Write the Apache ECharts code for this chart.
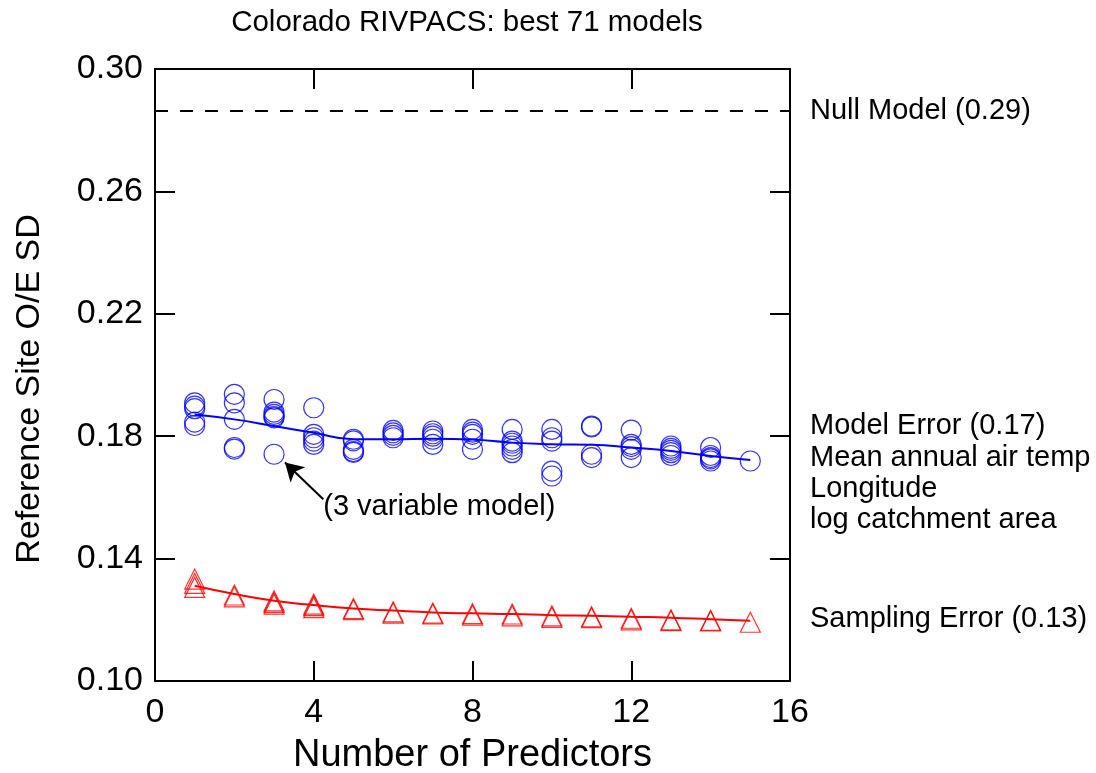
<!DOCTYPE html>
<html>
<head>
<meta charset="utf-8">
<script src="https://cdn.jsdelivr.net/npm/echarts@6/dist/echarts.min.js"></script>
<style>
html,body{margin:0;padding:0;background:#fff;}
#chart{width:1096px;height:773px;}
</style>
</head>
<body>
<div id="chart"></div>
<script>
// ---- data ----
const predictorCounts = [1,2,3,4,5,6,7,8,9,10,11,12,13,14,15];
// model error (O/E SD) of each candidate model, grouped by number of predictors
const modelErrorByCount = [
  [0.1909, 0.1898, 0.1890, 0.1846, 0.1835],
  [0.1937, 0.1909, 0.1855, 0.1763, 0.1758],
  [0.1920, 0.1879, 0.1871, 0.1864, 0.1860, 0.1741],
  [0.1893, 0.1806, 0.1795, 0.1784, 0.1773],
  [0.1790, 0.1785, 0.1757, 0.1750, 0.1747],
  [0.1819, 0.1811, 0.1803, 0.1795],
  [0.1817, 0.1808, 0.1800, 0.1790, 0.1773],
  [0.1822, 0.1813, 0.1806, 0.1790, 0.1757],
  [0.1822, 0.1784, 0.1777, 0.1768, 0.1757, 0.1746],
  [0.1822, 0.1795, 0.1784, 0.1686, 0.1670],
  [0.1833, 0.1830, 0.1741, 0.1730],
  [0.1820, 0.1773, 0.1766, 0.1757, 0.1730],
  [0.1768, 0.1760, 0.1754, 0.1746, 0.1737],
  [0.1763, 0.1737, 0.1730, 0.1726, 0.1719],
  [0.1719]
];
// sampling error of each model, grouped by number of predictors
const samplingErrorByCount = [
  [0.1333, 0.1319, 0.1306],
  [0.1281, 0.1275],
  [0.1262, 0.1257, 0.1251],
  [0.1251, 0.1246, 0.1240],
  [0.1237, 0.1233],
  [0.1226, 0.1222],
  [0.1222, 0.1219],
  [0.1220, 0.1215],
  [0.1219, 0.1213],
  [0.1213, 0.1208],
  [0.1210, 0.1207],
  [0.1205, 0.1200],
  [0.1200, 0.1197],
  [0.1198, 0.1196],
  [0.1192]
];
// smoothed trend lines
const modelErrorTrend    = [0.1871,0.1855,0.1833,0.1811,0.1790,0.1790,0.1792,0.1789,0.1779,0.1774,0.1772,0.1763,0.1752,0.1735,0.1722];
const samplingErrorTrend = [0.1311,0.1284,0.1262,0.1248,0.1237,0.1230,0.1224,0.1221,0.1219,0.1215,0.1213,0.1210,0.1207,0.1202,0.1197];
const nullModelSD = 0.2863;
const xTickRange = [0, 16];
const yTickValues = [0.10, 0.14, 0.18, 0.22, 0.26, 0.30];
const arrowFrom = [4.24, 0.1594];
const arrowTo = [3.275, 0.1714];
const arrowLabelAt = [4.24, 0.1568];
const rightNotes = [
  {text: 'Null Model (0.29)', y: 111},
  {text: 'Model Error (0.17)', y: 426},
  {text: 'Mean annual air temp', y: 458},
  {text: 'Longitude', y: 489},
  {text: 'log catchment area', y: 520},
  {text: 'Sampling Error (0.13)', y: 619}
];

// ---- build ----
const FONT = 'Liberation Sans, Arial, sans-serif';
function flatten(groups){
  const out = [];
  groups.forEach((g,i)=>g.forEach(v=>out.push([predictorCounts[i], v])));
  return out;
}
const chart = echarts.init(document.getElementById('chart'), null, {renderer:'canvas'});
const axisLine = {show:true, onZero:false, lineStyle:{color:'#000', width:2}};
const axisTick = {show:true, inside:true, length:20, lineStyle:{color:'#000', width:2}};
const yCommon = {
  type:'value', min:0.10, max:0.30,
  axisLine, splitLine:{show:false},
  axisTick: Object.assign({customValues: yTickValues}, axisTick)
};
const xCommon = {
  type:'value', min:xTickRange[0], max:xTickRange[1], interval:4,
  axisLine, axisTick, splitLine:{show:false}
};

chart.setOption({
  animation:false,
  backgroundColor:'#fff',
  title:{
    text:'Colorado RIVPACS: best 71 models',
    left:462, top:3, textAlign:'center',
    textStyle:{fontFamily:FONT, fontSize:29.5, fontWeight:'normal', color:'#000'}
  },
  grid:{left:155, right:306, top:69, bottom:92, containLabel:false, outerBoundsMode:'none'},
  xAxis:[
    Object.assign({}, xCommon, {
      position:'bottom',
      name:'Number of Predictors', nameLocation:'middle', nameGap:56,
      nameTextStyle:{fontFamily:FONT, fontSize:38, color:'#000'},
      axisLabel:{fontFamily:FONT, fontSize:34, color:'#000', margin:15}
    }),
    Object.assign({}, xCommon, {position:'top', axisLabel:{show:false}})
  ],
  yAxis:[
    Object.assign({}, yCommon, {
      position:'left',
      axisLabel:{customValues: yTickValues, fontFamily:FONT, fontSize:34, color:'#000', margin:12,
        formatter:v=>v.toFixed(2)}
    }),
    Object.assign({}, yCommon, {position:'right', axisLabel:{show:false}})
  ],
  series:[
    {
      type:'line', name:'Null model', symbol:'none', silent:true,
      lineStyle:{color:'#000', width:2, type:[13,12]},
      data: xTickRange.map(x=>[x, nullModelSD])
    },
    {
      type:'scatter', name:'Model error',
      symbol:'circle', symbolSize:20,
      itemStyle:{color:'rgba(0,0,0,0)', borderColor:'#0000ff', borderWidth:1.2},
      data: flatten(modelErrorByCount)
    },
    {
      type:'scatter', name:'Sampling error',
      symbol:'triangle', symbolSize:[20,20],
      itemStyle:{color:'rgba(0,0,0,0)', borderColor:'#ff0000', borderWidth:1.2},
      data: flatten(samplingErrorByCount),
      markLine:{
        silent:true, precision:4, symbol:['none','arrow'], symbolSize:[16,18], label:{show:false},
        lineStyle:{color:'#000', width:2, type:'solid'},
        data:[[{coord:arrowFrom},{coord:arrowTo}]]
      }
    },
    {
      type:'line', smooth:true, showSymbol:false, symbol:'none',
      lineStyle:{color:'#0000ff', width:2},
      data: predictorCounts.map((x,i)=>[x, modelErrorTrend[i]])
    },
    {
      type:'line', smooth:true, showSymbol:false, symbol:'none',
      lineStyle:{color:'#ff0000', width:2},
      data: predictorCounts.map((x,i)=>[x, samplingErrorTrend[i]])
    }
  ]
});

// annotations
const p = chart.convertToPixel({gridIndex:0}, arrowLabelAt);
const graphics = [];
graphics.push({
  type:'text', x:30, y:389, rotation:Math.PI/2,
  style:{text:'Reference Site O/E SD', fontFamily:FONT, fontSize:34, fill:'#000',
    textAlign:'center', textVerticalAlign:'middle'}
});
graphics.push({
  type:'text', x:p[0], y:p[1],
  style:{text:'(3 variable model)', fontFamily:FONT, fontSize:29, fill:'#000',
    textAlign:'left', textVerticalAlign:'middle'}
});
rightNotes.forEach(n=>graphics.push({
  type:'text', x:810, y:n.y,
  style:{text:n.text, fontFamily:FONT, fontSize:29, fill:'#000', textAlign:'left', textVerticalAlign:'middle'}
}));
chart.setOption({graphic: graphics});
</script>
</body>
</html>
